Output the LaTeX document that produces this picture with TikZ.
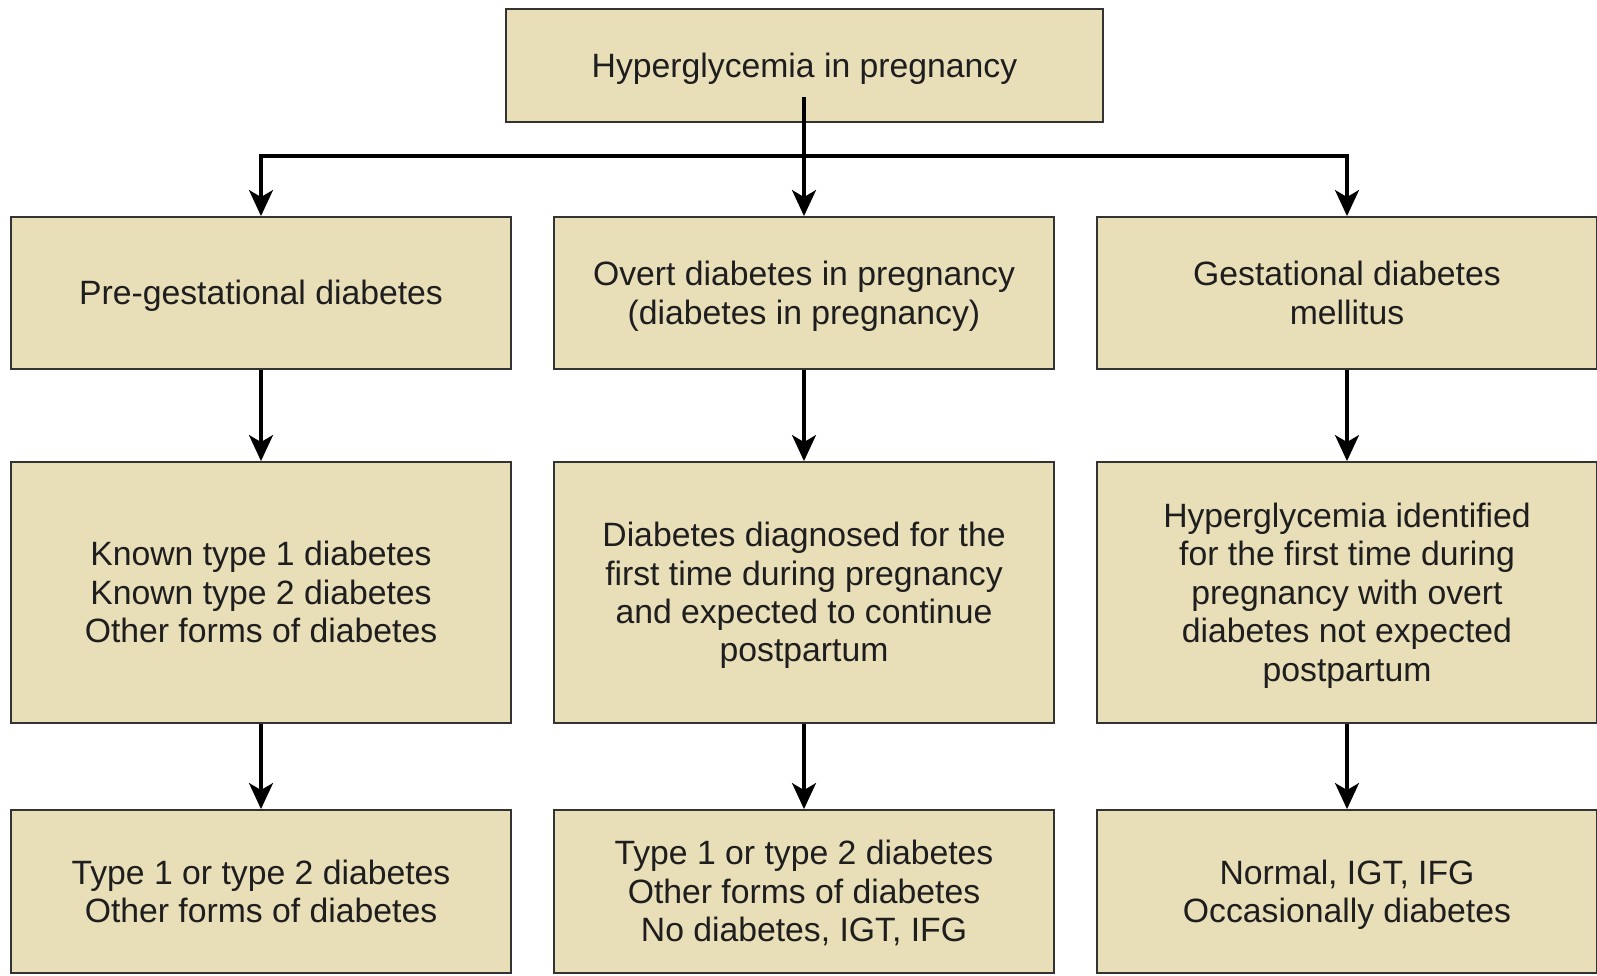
\documentclass[tikz,border=0pt]{standalone}
\usepackage{fontspec}
\setmainfont{Liberation Sans}
\usetikzlibrary{arrows.meta}
\definecolor{boxfill}{RGB}{232,222,184}
\definecolor{boxline}{RGB}{51,51,51}
\definecolor{boxtext}{RGB}{30,30,30}
\newcommand{\topstrut}{\rule{0pt}{17.4pt}}
\newcommand{\botstrut}{\rule[-4pt]{0pt}{4pt}}
\tikzset{
    box/.style={draw=boxline, line width=1.1pt, fill=boxfill, text=boxtext,
        align=center, inner sep=0pt, minimum width=10cm,
        font=\fontsize{19.2}{21.9}\selectfont},
    arr/.style={line width=1.8pt, -{Stealth[length=0.52cm, width=0.48cm, inset=0.14cm]}}
}
\begin{document}
\begin{tikzpicture}[x=0.02cm, y=-0.02cm]
        \useasboundingbox (0,0) rectangle (1597,975);
        \clip (0,0) rectangle (1597,975);

        % Top
        \node[box, minimum width=11.94cm, minimum height=2.26cm] (hip) at (804.5,65.5) {\topstrut Hyperglycemia in pregnancy\botstrut};
        \coordinate (split) at (804,97);
        \coordinate (bus) at (804,156);

        % Types
        \node[box, minimum height=3.04cm] (pregest) at (261,293) {\topstrut Pre-gestational diabetes\botstrut};
        \node[box, minimum height=3.04cm] (overt) at (804,293) {\topstrut Overt diabetes in pregnancy\\(diabetes in pregnancy)\botstrut};
        \node[box, minimum height=3.04cm] (gdm) at (1347,293) {\topstrut Gestational diabetes\\mellitus\botstrut};

        % Definitions
        \node[box, minimum height=5.22cm] (pregestdef) at (261,592.5) {\topstrut Known type 1 diabetes\\Known type 2 diabetes\\Other forms of diabetes\botstrut};
        \node[box, minimum height=5.22cm] (overtdef) at (804,592.5) {\topstrut Diabetes diagnosed for the\\first time during pregnancy\\and expected to continue\\postpartum\botstrut};
        \node[box, minimum height=5.22cm] (gdmdef) at (1347,592.5) {\topstrut Hyperglycemia identified\\for the first time during\\pregnancy with overt\\diabetes not expected\\postpartum\botstrut};

        % Postpartum
        \node[box, minimum height=3.26cm] (pregestpp) at (261,891.5) {\topstrut Type 1 or type 2 diabetes\\Other forms of diabetes\botstrut};
        \node[box, minimum height=3.26cm] (overtpp) at (804,891.5) {\topstrut Type 1 or type 2 diabetes\\Other forms of diabetes\\No diabetes, IGT, IFG\botstrut};
        \node[box, minimum height=3.26cm] (gdmpp) at (1347,891.5) {\topstrut Normal, IGT, IFG\\Occasionally diabetes\botstrut};

        % Arrows
        \draw[arr] (split) -- (overt.north);
        \draw[arr] (bus) -| (pregest.north);
        \draw[arr] (bus) -| (gdm.north);
        \draw[arr] (pregest) -- (pregestdef);
        \draw[arr] (overt) -- (overtdef);
        \draw[arr] (gdm) -- (gdmdef);
        \draw[arr] (pregestdef) -- (pregestpp);
        \draw[arr] (overtdef) -- (overtpp);
        \draw[arr] (gdmdef) -- (gdmpp);
    \end{tikzpicture}
\end{document}
